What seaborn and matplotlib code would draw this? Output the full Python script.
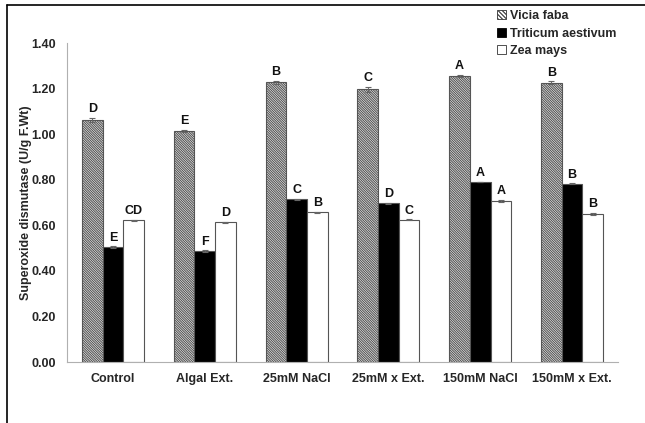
import matplotlib
matplotlib.use("Agg")
import matplotlib.pyplot as plt
import seaborn as sns
import pandas as pd
import numpy as np
from matplotlib.patches import Rectangle
from matplotlib.lines import Line2D

categories = ["Control", "Algal Ext.", "25mM NaCl", "25mM x Ext.", "150mM NaCl", "150mM x Ext."]
species = ["Vicia faba", "Triticum aestivum", "Zea mays"]
vicia = [1.063, 1.014, 1.227, 1.197, 1.256, 1.225]
triticum = [0.503, 0.487, 0.714, 0.696, 0.790, 0.782]
zea = [0.622, 0.614, 0.657, 0.624, 0.706, 0.650]
vicia_err = [0.010, 0.006, 0.006, 0.010, 0.004, 0.007]
triticum_err = [0.004, 0.003, 0.002, 0.002, 0.002, 0.002]
zea_err = [0.002, 0.002, 0.003, 0.002, 0.004, 0.005]
vicia_letters = ["D", "E", "B", "C", "A", "B"]
triticum_letters = ["E", "F", "C", "D", "A", "B"]
zea_letters = ["CD", "D", "B", "C", "A", "B"]
yticks = [0.0, 0.2, 0.4, 0.6, 0.8, 1.0, 1.2, 1.4]

sns.set_style("white")
plt.rcParams["font.family"] = ["Liberation Sans", "DejaVu Sans"]
plt.rcParams["hatch.linewidth"] = 0.8
plt.rcParams["hatch.color"] = "#333333"

rows = []
for sp, vals, errs, labs in [(species[0], vicia, vicia_err, vicia_letters),
                             (species[1], triticum, triticum_err, triticum_letters),
                             (species[2], zea, zea_err, zea_letters)]:
    for c, v, e, l in zip(categories, vals, errs, labs):
        rows.append({"Treatment": c, "Species": sp, "SOD": v, "err": e, "letter": l})
df = pd.DataFrame(rows)

fig = plt.figure(figsize=(6.45, 4.23), dpi=100)
ax = fig.add_axes([67/645, 1-362/423, (618-67)/645, (362-43)/423])

palette = {species[0]: "white", species[1]: "black", species[2]: "white"}
sns.barplot(data=df, x="Treatment", y="SOD", hue="Species", order=categories,
            hue_order=species, palette=palette, width=0.675, gap=0,
            edgecolor="#555555", linewidth=0.8, errorbar=None, legend=False, ax=ax)

hatches = {species[0]: "\\" * 14, species[1]: "", species[2]: ""}
for container, sp in zip(ax.containers, species):
    sub = df[df["Species"] == sp].set_index("Treatment").loc[categories]
    xs = []
    for patch, (tr, row) in zip(container.patches, sub.iterrows()):
        patch.set_hatch(hatches[sp])
        xc = patch.get_x() + patch.get_width() / 2
        xs.append(xc)
        ax.text(xc, row["SOD"] + row["err"] + 0.012, row["letter"], ha="center", va="bottom",
                fontsize=9, fontweight="bold", color="#111111")
    ax.errorbar(xs, sub["SOD"].values, yerr=sub["err"].values, fmt="none",
                ecolor="#666666", elinewidth=0.8, capsize=2, capthick=0.8)

ax.set_xlim(-0.5, 5.5)
ax.set_ylim(0, 1.4)
ax.set_yticks(yticks)
ax.set_yticklabels([f"{t:.2f}" for t in yticks], fontsize=9, fontweight="bold")
ax.set_xticks(range(len(categories)))
ax.set_xticklabels(categories, fontsize=9, fontweight="bold")
ax.tick_params(axis="y", length=4, color="#aaaaaa", width=0.8, direction="out", pad=4)
ax.tick_params(axis="x", length=0, pad=8)
ax.set_xlabel("")
ax.set_ylabel("Superoxide dismutase (U/g F.Wt)", fontsize=9, fontweight="bold")
ax.yaxis.set_label_coords(-(67-32)/551, 0.5)
for s in ["top", "right"]:
    ax.spines[s].set_visible(False)
for s in ["left", "bottom"]:
    ax.spines[s].set_color("#b0b0b0")
    ax.spines[s].set_linewidth(0.8)

handles = [Rectangle((0, 0), 1, 1, facecolor="white", edgecolor="#333333", hatch="\\" * 8, linewidth=0.6),
           Rectangle((0, 0), 1, 1, facecolor="black", edgecolor="black", linewidth=0.6),
           Rectangle((0, 0), 1, 1, facecolor="white", edgecolor="#333333", linewidth=0.6)]
fig.legend(handles, species, loc="upper left", bbox_to_anchor=(492/645, 1-5/423),
           frameon=False, handlelength=0.7, handleheight=0.7, handletextpad=0.3,
           labelspacing=0.45, prop={"size": 9, "weight": "bold"}, borderaxespad=0)

# outer frame (top and left edges visible)
fig.add_artist(Line2D([7/645, 7/645], [0, 1-5/423], transform=fig.transFigure, color="black", lw=1.2))
fig.add_artist(Line2D([7/645, 1], [1-5/423, 1-5/423], transform=fig.transFigure, color="black", lw=1.2))

fig.savefig("out.png", dpi=100)
